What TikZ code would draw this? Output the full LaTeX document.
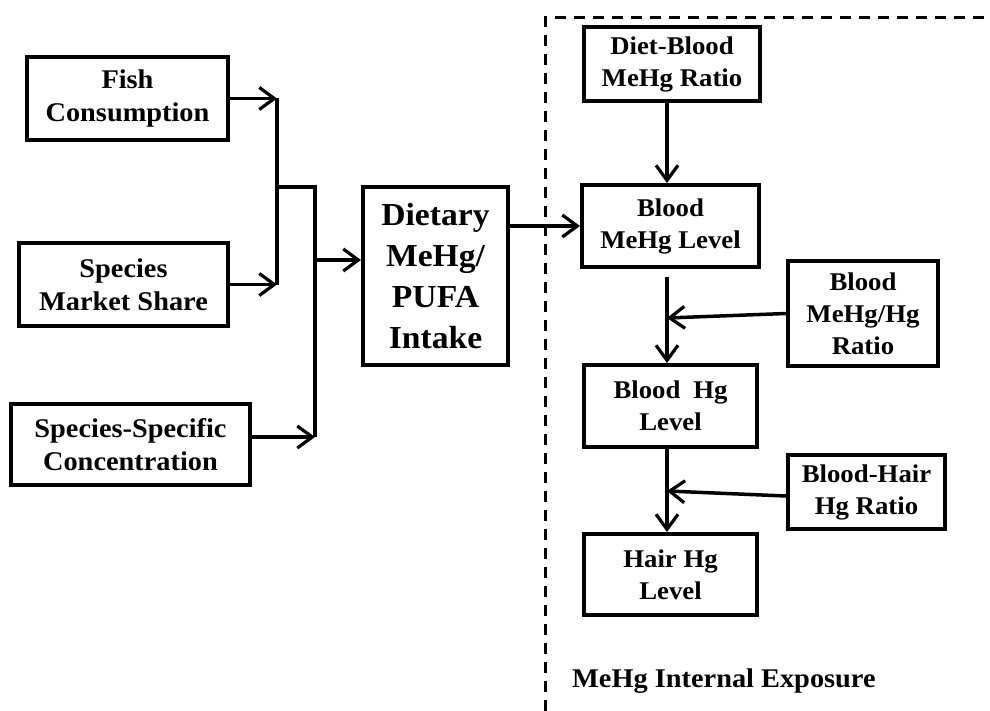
\documentclass[tikz,border=0pt]{standalone}
\usepackage{fontspec}
\setmainfont{Liberation Serif}[FakeStretch=1.05]
\usetikzlibrary{arrows.meta}
\tikzset{
  box/.style={draw, line width=4pt, align=center, inner sep=0pt, font=\bfseries\fontsize{27}{33}\selectfont},
  rbox/.style={box, font=\bfseries\fontsize{25.5}{32}\selectfont},
  arr/.style={line width=3.5pt, -{Straight Barb[length=15pt,width=22pt,line width=3.2pt]}},
  ln/.style={line width=3.5pt},
  region/.style={line width=3pt, dash pattern=on 11pt off 8pt}
}
\begin{document}
\begin{tikzpicture}[x=1pt,y=-1pt]
\useasboundingbox (0,0) rectangle (990,711);
% left inputs
\node[box, minimum width=201pt, minimum height=83pt] (fish) at (127.5,98.5) {Fish\\Consumption};
\node[box, minimum width=209pt, minimum height=83pt] (share) at (123.5,284.5) {Species\\Market Share};
\node[box, minimum width=239pt, minimum height=81pt] (conc) at (130.5,444.5) {Species-Specific\\Concentration};
\node[box, minimum width=145pt, minimum height=178pt, font=\bfseries\fontsize{32}{41}\selectfont] (diet) at (435.5,276) {Dietary\\MeHg/\\PUFA\\Intake};
% right side
\node[rbox, minimum width=176pt, minimum height=74pt] (dbr) at (672,64) {Diet-Blood\\MeHg Ratio};
\node[rbox, minimum width=177pt, minimum height=82pt] (bml) at (670.5,226) {Blood\\MeHg Level};
\node[rbox, minimum width=150pt, minimum height=105pt] (bmr) at (863,313.5) {Blood\\MeHg/Hg\\Ratio};
\node[rbox, minimum width=173pt, minimum height=82pt] (bhl) at (670.5,406) {Blood\enspace Hg\\Level};
\node[rbox, minimum width=157pt, minimum height=74pt] (bhr) at (866.5,492) {Blood-Hair\\Hg Ratio};
\node[rbox, minimum width=173pt, minimum height=81pt] (hhl) at (670.5,574.5) {Hair Hg\\Level};
\node[anchor=west, inner sep=0pt, font=\bfseries\fontsize{27}{30}\selectfont] (lbl) at (572,681) {MeHg Internal Exposure};
% junction coordinates
\coordinate (ja) at (277,187);
\coordinate (jb) at (315,187);
\coordinate (jc) at (315,437);
\coordinate (jd) at (315,260);
\coordinate (vx) at (667,0);
\coordinate (m1) at (667,277);
\coordinate (t1) at (667,318);
\coordinate (t2) at (667,491);
% left connectors
\draw[arr] (fish.east) -- (fish.east -| ja);
\draw[arr] (share.east) -- (share.east -| ja);
\draw[ln] (fish.east -| ja) -- (share.east -| ja);
\draw[ln] (ja) -- (jb) -- (jc);
\draw[arr] (conc.east |- jc) -- (jc);
\draw[arr] (jd) -- (diet.west |- jd);
\draw[arr] (diet.east |- bml.west) -- (bml.west);
% right connectors
\draw[arr] (dbr.south -| vx) -- (bml.north -| vx);
\draw[arr] (m1) -- (bhl.north -| vx);
\draw[arr] (bmr.west) -- (t1);
\draw[arr] (bhl.south -| vx) -- (hhl.north -| vx);
\draw[arr] ([yshift=-4pt]bhr.west) -- (t2);
% dashed region
\draw[region] (545,711) -- (545,18) -- (990,18);
\end{tikzpicture}
\end{document}
